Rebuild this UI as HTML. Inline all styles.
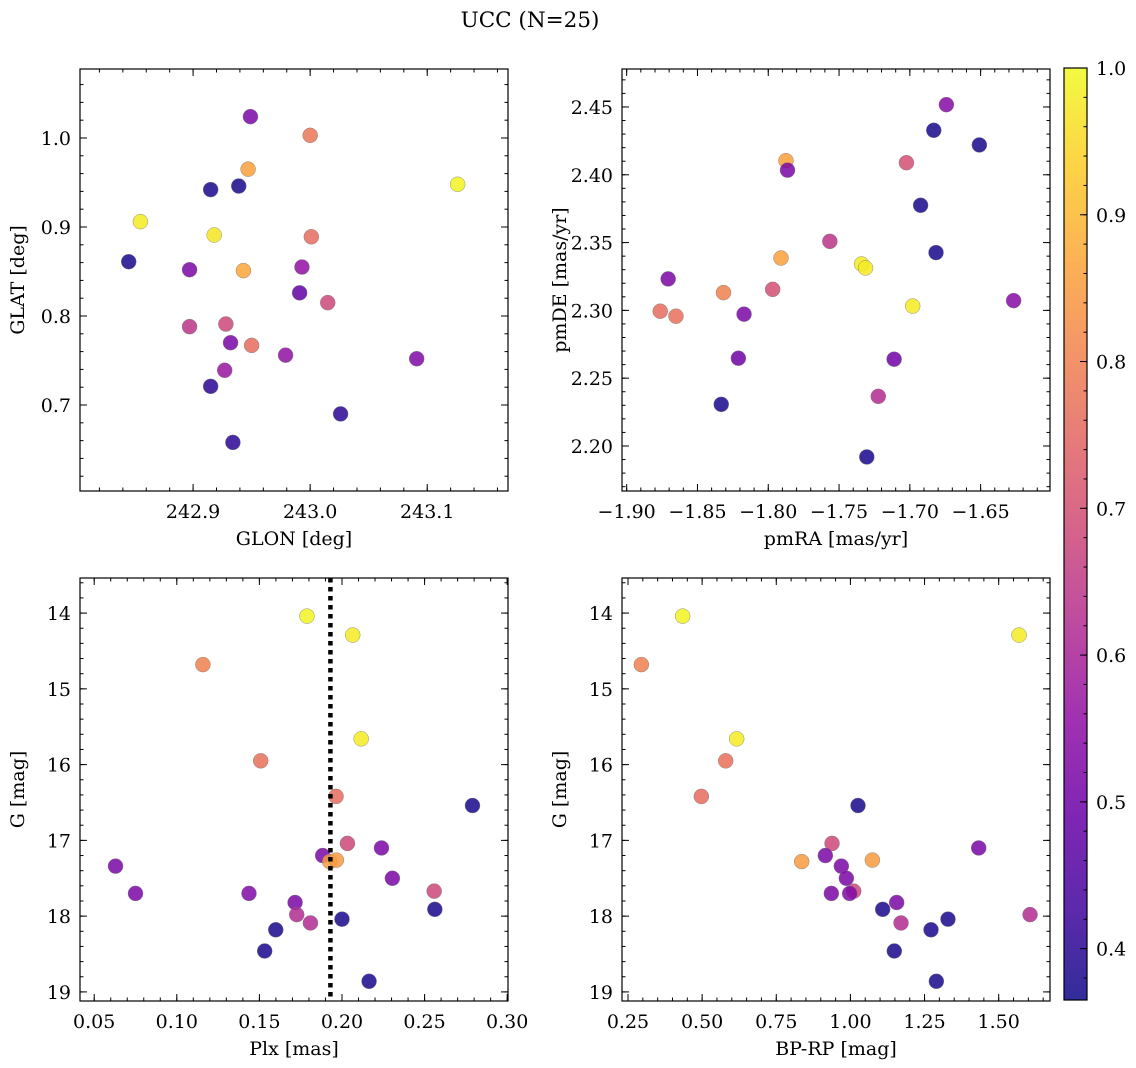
<!DOCTYPE html>
<html><head><meta charset="utf-8"><style>
html,body{margin:0;padding:0;background:#fff;}
svg{display:block;font-family:"DejaVu Serif","Liberation Serif",serif;}
</style></head><body>
<svg id="fig" width="1136" height="1068" viewBox="0 0 1136 1068" xmlns="http://www.w3.org/2000/svg">
<defs>
<linearGradient id="plasma" x1="0" y1="1" x2="0" y2="0">
<stop offset="0" stop-color="#0d0887"/><stop offset="0.1" stop-color="#41049d"/><stop offset="0.2" stop-color="#6a00a8"/><stop offset="0.3" stop-color="#8f0da4"/><stop offset="0.4" stop-color="#b12a90"/><stop offset="0.5" stop-color="#cc4778"/><stop offset="0.6" stop-color="#e16462"/><stop offset="0.7" stop-color="#f2844b"/><stop offset="0.8" stop-color="#fca636"/><stop offset="0.9" stop-color="#fcce25"/><stop offset="1" stop-color="#f0f921"/>
</linearGradient>
</defs>
<text x="530" y="27" font-size="21.5" text-anchor="middle">UCC (N=25)</text>
</svg>
<script>
// ---------- data ----------
const glon = [242.949,243.000,242.947,242.915,242.939,243.126,242.855,242.918,243.001,242.845,242.897,242.943,242.993,242.991,243.015,242.897,242.928,242.932,242.950,242.979,243.091,242.927,242.915,243.026,242.934];
const glat = [1.024,1.003,0.965,0.942,0.946,0.948,0.906,0.891,0.889,0.861,0.852,0.851,0.855,0.826,0.815,0.788,0.791,0.770,0.767,0.756,0.752,0.739,0.721,0.690,0.658];
const c1 = [0.52,0.78,0.86,0.38,0.38,0.99,0.98,0.97,0.76,0.38,0.52,0.87,0.56,0.48,0.68,0.64,0.68,0.52,0.76,0.56,0.53,0.57,0.40,0.40,0.40];

const pmra = [-1.6742,-1.6831,-1.6509,-1.7875,-1.7024,-1.7864,-1.6924,-1.7565,-1.6815,-1.7910,-1.7341,-1.7313,-1.8707,-1.7969,-1.8316,-1.6980,-1.6267,-1.8763,-1.8652,-1.8171,-1.8211,-1.7111,-1.7223,-1.8332,-1.7304];
const pmde = [2.4517,2.4328,2.4220,2.4104,2.4089,2.4034,2.3775,2.3509,2.3426,2.3386,2.3342,2.3313,2.3232,2.3155,2.3131,2.3032,2.3072,2.2994,2.2957,2.2972,2.2647,2.2640,2.2366,2.2307,2.1919];
const c2 = [0.54,0.38,0.38,0.86,0.70,0.52,0.38,0.64,0.38,0.86,0.98,0.98,0.52,0.70,0.80,0.98,0.54,0.76,0.77,0.52,0.50,0.50,0.62,0.38,0.38];

const plx = [0.1788,0.2065,0.1158,0.2116,0.1508,0.1964,0.2790,0.2033,0.2239,0.1883,0.1926,0.1966,0.0629,0.2305,0.2558,0.0750,0.1437,0.1716,0.2562,0.1726,0.2000,0.1809,0.1599,0.1532,0.2164];
const bprp = [0.4343,1.5686,0.2950,0.6165,0.5794,0.4973,1.0256,0.9380,1.4326,0.9155,0.8357,1.0740,0.9694,0.9863,1.0110,0.9357,0.9975,1.1560,1.1088,1.6057,1.3290,1.1706,1.2718,1.1480,1.2898];
const gmag = [14.04,14.29,14.68,15.66,15.95,16.42,16.54,17.04,17.10,17.20,17.28,17.26,17.34,17.50,17.67,17.70,17.70,17.82,17.91,17.98,18.04,18.09,18.18,18.46,18.86];
const c3 = [0.99,0.98,0.80,0.98,0.77,0.76,0.38,0.68,0.52,0.52,0.85,0.85,0.52,0.52,0.68,0.52,0.53,0.52,0.38,0.62,0.38,0.62,0.38,0.38,0.38];
const plxMedian = 0.193;

const xt1 = ["242.9","243.0","243.1"]; const yt1 = ["0.7","0.8","0.9","1.0"];
const xt2 = ["−1.90","−1.85","−1.80","−1.75","−1.70","−1.65"]; const yt2 = ["2.20","2.25","2.30","2.35","2.40","2.45"];
const xt3 = ["0.05","0.10","0.15","0.20","0.25","0.30"]; const yt3 = ["14","15","16","17","18","19"];
const xt4 = ["0.25","0.50","0.75","1.00","1.25","1.50"];
const cbt = ["0.4","0.5","0.6","0.7","0.8","0.9","1.0"];
const cmin = 0.365, cmax = 1.0;

// ---------- helpers ----------
const NS = "http://www.w3.org/2000/svg";
const svg = document.getElementById('fig');
const FS = 19;
function mk(tag, attrs, parent){const e=document.createElementNS(NS,tag);for(const k in attrs)e.setAttribute(k,attrs[k]);(parent||svg).appendChild(e);return e;}
const stops=[[13,8,135],[65,4,157],[106,0,168],[143,13,164],[177,42,144],[204,71,120],[225,100,98],[242,132,75],[252,166,54],[252,206,37],[240,249,33]];
function plasma(v){let t=(v-cmin)/(cmax-cmin);t=Math.max(0,Math.min(1,t))*10;const i=Math.min(9,Math.floor(t)),f=t-i;const a=stops[i],b=stops[i+1];return `rgb(${a.map((x,j)=>Math.round(x+(b[j]-x)*f)).join(',')})`;}

function panel(p, xs, ys, cs, name){
  const g=mk('g',{});
  
  
  const sx=v=>p.L+(v-p.x0)/(p.x1-p.x0)*(p.R-p.L);
  const sy=v=>p.inv? p.T+(v-p.y0)/(p.y1-p.y0)*(p.B-p.T) : p.B-(v-p.y0)/(p.y1-p.y0)*(p.B-p.T);
  const eps=1e-9;
  function ticksX(step,len){const s=Math.ceil(p.x0/step-eps);for(let k=s;k*step<=p.x1+eps;k++){const x=sx(k*step);mk('line',{x1:x,x2:x,y1:p.B,y2:p.B-len,stroke:'#000','stroke-width':1},g);mk('line',{x1:x,x2:x,y1:p.T,y2:p.T+len,stroke:'#000','stroke-width':1},g);}}
  function ticksY(step,len){const lo=Math.min(p.y0,p.y1),hi=Math.max(p.y0,p.y1);const s=Math.ceil(lo/step-eps);for(let k=s;k*step<=hi+eps;k++){const y=sy(k*step);mk('line',{x1:p.L,x2:p.L+len,y1:y,y2:y,stroke:'#000','stroke-width':1},g);mk('line',{x1:p.R,x2:p.R-len,y1:y,y2:y,stroke:'#000','stroke-width':1},g);}}
  ticksX(p.xmin,3.5);ticksX(p.xmaj,7);ticksY(p.ymin,3.5);ticksY(p.ymaj,7);
  p.xlab.forEach(t=>{const v=parseFloat(t.replace('−','-'));const tx=mk('text',{x:sx(v),y:p.B+27,'font-size':FS,'text-anchor':'middle'},g);tx.textContent=t;
    
    });
  p.ylab.forEach(t=>{const v=parseFloat(t);const tx=mk('text',{x:p.L-9,y:sy(v)+7,'font-size':FS,'text-anchor':'end'},g);tx.textContent=t;
    
    });
  xs.forEach((xv,i)=>{const c=mk('circle',{cx:sx(xv),cy:sy(ys[i]),r:7.5,fill:plasma(cs[i]),'fill-opacity':0.85,stroke:'#777','stroke-width':0.4},g);
    
    });
  if(p.vline!==undefined){const l=mk('line',{x1:sx(p.vline),x2:sx(p.vline),y1:p.T,y2:p.B,stroke:'#000','stroke-width':4.5,'stroke-dasharray':'4.5 4.5'},g);
    
    }
  const fr=mk('rect',{x:p.L,y:p.T,width:p.R-p.L,height:p.B-p.T,fill:'none',stroke:'#000','stroke-width':1.2},g);
  
  
  const xl=mk('text',{x:(p.L+p.R)/2,y:p.B+54,'font-size':FS,'text-anchor':'middle'},g);xl.textContent=p.xtitle;
  
  
  const yx=p.L-56, yy=(p.T+p.B)/2;
  const yl=mk('text',{x:yx,y:yy,'font-size':FS,'text-anchor':'middle',transform:`rotate(-90 ${yx} ${yy})`},g);yl.textContent=p.ytitle;
  
  
}

panel({L:80,R:508,T:69,B:491,x0:242.8034,x1:243.169,y0:0.6034,y1:1.0775,xmaj:0.1,xmin:0.02,ymaj:0.1,ymin:0.02,xlab:xt1,ylab:yt1,xtitle:'GLON [deg]',ytitle:'GLAT [deg]'},glon,glat,c1,'glon-glat-panel');
panel({L:622,R:1050,T:69,B:491,x0:-1.9033,x1:-1.601,y0:2.1668,y1:2.478,xmaj:0.05,xmin:0.01,ymaj:0.05,ymin:0.01,xlab:xt2,ylab:yt2,xtitle:'pmRA [mas/yr]',ytitle:'pmDE [mas/yr]'},pmra,pmde,c2,'pm-panel');
panel({L:80,R:508,T:578,B:1001,x0:0.0414,x1:0.3005,y0:13.537,y1:19.12,inv:true,xmaj:0.05,xmin:0.01,ymaj:1,ymin:0.2,xlab:xt3,ylab:yt3,xtitle:'Plx [mas]',ytitle:'G [mag]',vline:plxMedian},plx,gmag,c3,'plx-g-panel');
panel({L:622,R:1050,T:578,B:1001,x0:0.2298,x1:1.673,y0:13.537,y1:19.12,inv:true,xmaj:0.25,xmin:0.05,ymaj:1,ymin:0.2,xlab:xt4,ylab:yt3,xtitle:'BP-RP [mag]',ytitle:'G [mag]'},bprp,gmag,c3,'cmd-panel');

const cb=mk('g',{});


const CT=68,CBt=1000,CL=1064,CR=1087;
mk('rect',{x:CL,y:CT,width:CR-CL,height:CBt-CT,fill:'url(#plasma)','fill-opacity':0.85},cb);
mk('rect',{x:CL,y:CT,width:CR-CL,height:CBt-CT,fill:'none',stroke:'#000','stroke-width':1.2},cb);
const cy=v=>CBt-(v-cmin)/(cmax-cmin)*(CBt-CT);
for(let k=Math.ceil(cmin/0.02);k*0.02<=cmax+1e-9;k++){const y=cy(k*0.02);mk('line',{x1:CR,x2:CR-3.5,y1:y,y2:y,stroke:'#000'},cb);}
cbt.forEach(t=>{const v=parseFloat(t);const y=cy(v);mk('line',{x1:CR,x2:CR-7,y1:y,y2:y,stroke:'#000'},cb);
  const tx=mk('text',{x:CR+9,y:y+7,'font-size':FS},cb);tx.textContent=t;
  
  });
</script>
</body></html>
